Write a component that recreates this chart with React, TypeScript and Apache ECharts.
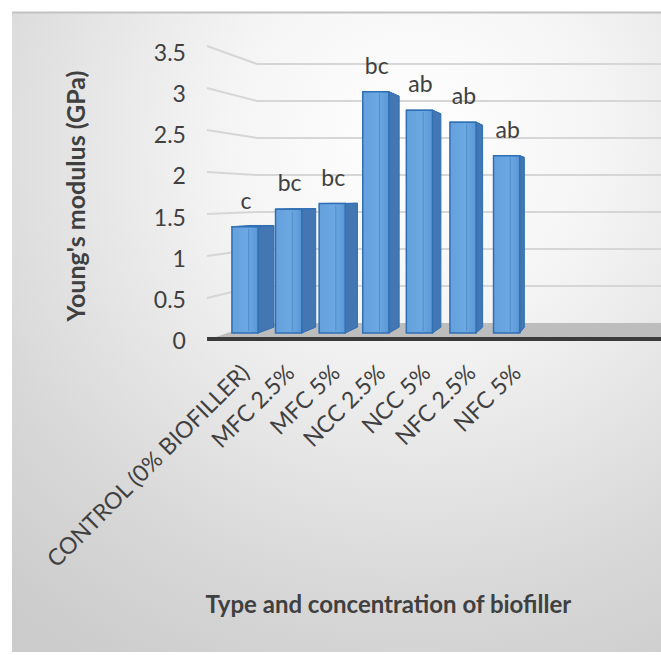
import React, { useEffect, useRef } from "react";
import * as echarts from "echarts";

// Young's modulus per biofiller treatment
const categories = [
  "CONTROL (0% BIOFILLER)",
  "MFC 2.5%",
  "MFC 5%",
  "NCC 2.5%",
  "NCC 5%",
  "NFC 2.5%",
  "NFC 5%",
];
const modulusGPa = [1.33, 1.55, 1.62, 3.02, 2.79, 2.64, 2.22];
const groupLetters = ["c", "bc", "bc", "bc", "ab", "ab", "ab"];
const yTicks = [0, 0.5, 1, 1.5, 2, 2.5, 3, 3.5];

const FONT = "Lato, 'Open Sans', sans-serif";
const TEXT = "#404040";

// Depths (fraction of the way toward the vanishing point)
const FLOOR_BACK = 0.119;
const BAR_FRONT = 0.049;
const BAR_BACK = 0.09;

// Perspective view built from the axis scales of the grid
function makeView(api: any) {
  const base = api.coord([0, 0]);
  const band = api.size([1, 0])[0];
  const unit = api.size([0, 1])[1];
  const frontBand = band * 1.013;
  const frontUnit = unit * 1.0207;
  const vp = [base[0] + 382.5, base[1] - 143];
  const catX = (i: number) => base[0] - 19.2 + i * frontBand;
  const valY = (v: number) => base[1] - v * frontUnit;
  const proj = (x: number, y: number, f: number) => [x + (vp[0] - x) * f, y + (vp[1] - y) * f];
  const wallX = base[0] - 37.5;
  return { base, frontBand, catX, valY, proj, wallX, width: api.getWidth() };
}

export default function App() {
  const ref = useRef<HTMLDivElement>(null);

  useEffect(() => {
    document.body.style.margin = "0";
    document.body.style.overflow = "hidden";
    document.documentElement.style.overflow = "hidden";
    const chart = echarts.init(ref.current!, undefined, { renderer: "svg" });

    const option: any = {
      animation: false,
      graphic: [
        {
          type: "rect",
          z: -10,
          silent: true,
          shape: { x: 12, y: 12, width: 649, height: 640 },
          style: {
            fill: new echarts.graphic.RadialGradient(0.62, 0.2, 0.95, [
              { offset: 0, color: "#ffffff" },
              { offset: 0.3, color: "#f5f5f5" },
              { offset: 0.75, color: "#d8d8d8" },
              { offset: 1, color: "#cccccc" },
            ]),
          },
        },
        {
          type: "line",
          z: -9,
          silent: true,
          shape: { x1: 12, y1: 12.5, x2: 661, y2: 12.5 },
          style: { stroke: "#c2c2c2", lineWidth: 2 },
        },
      ],
      grid: {
        left: 221.9,
        right: 122.3,
        top: 52,
        bottom: 315,
        containLabel: false,
        outerBoundsMode: "none",
      },
      xAxis: {
        type: "category",
        data: categories,
        axisLine: { show: false },
        axisTick: { show: false },
        splitLine: { show: false },
        axisLabel: {
          interval: 0,
          rotate: 45,
          margin: 28,
          fontSize: 23,
          fontFamily: FONT,
          color: TEXT,
        },
        name: "Type and concentration of biofiller",
        nameLocation: "middle",
        nameGap: 251,
        nameTextStyle: {
          fontSize: 24,
          fontWeight: "bold",
          fontFamily: FONT,
          color: TEXT,
          padding: [0, 0, 0, 16],
        },
      },
      yAxis: {
        type: "value",
        min: 0,
        max: 3.5,
        interval: 0.5,
        axisLine: { show: false },
        axisTick: { show: false },
        splitLine: { show: false },
        axisLabel: {
          margin: 36,
          fontSize: 23,
          fontFamily: FONT,
          color: TEXT,
        },
        name: "Young's modulus (GPa)",
        nameLocation: "middle",
        nameGap: 134,
        nameRotate: 90,
        nameTextStyle: {
          fontSize: 25,
          fontWeight: "bold",
          fontFamily: FONT,
          color: TEXT,
        },
      },
      series: [
        {
          // walls, gridlines and floor
          type: "custom",
          z: 1,
          silent: true,
          data: yTicks.map((v) => [0, v]),
          renderItem: (_p: any, api: any) => {
            const view = makeView(api);
            const v = api.value(1);
            const fy = view.valY(v);
            const back = view.proj(view.wallX, fy, FLOOR_BACK);
            if (v === 0) {
              return {
                type: "group",
                children: [
                  {
                    type: "polygon",
                    shape: {
                      points: [
                        [view.wallX, fy],
                        [view.width, fy],
                        [view.width, back[1]],
                        back,
                      ],
                    },
                    style: { fill: "#bdbdbd" },
                  },
                  {
                    type: "line",
                    shape: { x1: view.wallX, y1: fy - 1, x2: view.width, y2: fy - 1 },
                    style: { stroke: "#3b3b3b", lineWidth: 4 },
                  },
                ],
              };
            }
            return {
              type: "polyline",
              shape: {
                points: [[view.wallX, fy], back, [view.width, back[1]]],
              },
              style: { stroke: "#d6d6d6", lineWidth: 2, fill: null },
            };
          },
        },
        {
          // 3D columns with group letters
          type: "custom",
          z: 2,
          data: modulusGPa.map((v, i) => [i, v]),
          encode: { x: 0, y: 1 },
          renderItem: (p: any, api: any) => {
            const view = makeView(api);
            const i = api.value(0);
            const v = api.value(1);
            const cx = view.catX(i);
            const hw = view.frontBand * 0.3;
            const y0 = view.valY(0);
            const y1 = view.valY(v);
            const fl = view.proj(cx - hw, y1, BAR_FRONT);
            const fr = view.proj(cx + hw, y1, BAR_FRONT);
            const bl = view.proj(cx - hw, y0, BAR_FRONT);
            const br = view.proj(cx + hw, y0, BAR_FRONT);
            const tl2 = view.proj(cx - hw, y1, BAR_BACK);
            const tr2 = view.proj(cx + hw, y1, BAR_BACK);
            const br2 = view.proj(cx + hw, y0, BAR_BACK);
            const stripeX = fl[0] + (fr[0] - fl[0]) * 0.64;
            const outline = "#2f6fb4";
            return {
              type: "group",
              children: [
                {
                  type: "polygon",
                  shape: { points: [fl, fr, tr2, tl2] },
                  style: { fill: "#7db2e6", stroke: outline, lineWidth: 1 },
                },
                {
                  type: "polygon",
                  shape: { points: [fr, tr2, br2, br] },
                  style: { fill: "#4277b3", stroke: outline, lineWidth: 1 },
                },
                {
                  type: "polygon",
                  shape: { points: [fl, fr, br, bl] },
                  style: {
                    fill: new echarts.graphic.LinearGradient(0, 0, 1, 0, [
                      { offset: 0, color: "#64a1dd" },
                      { offset: 0.6, color: "#6ca8e2" },
                      { offset: 1, color: "#5b97d5" },
                    ]),
                    stroke: outline,
                    lineWidth: 1.5,
                  },
                },
                {
                  type: "line",
                  shape: { x1: stripeX, y1: fl[1] + 2, x2: stripeX, y2: bl[1] - 2 },
                  style: { stroke: "#4f8ccc", lineWidth: 1 },
                },
                {
                  type: "text",
                  x: (fl[0] + fr[0]) / 2 + 1,
                  y: fl[1] - 27,
                  style: {
                    text: groupLetters[p.dataIndex],
                    fill: TEXT,
                    fontSize: 23,
                    fontFamily: FONT,
                    align: "center",
                    verticalAlign: "middle",
                    textAlign: "center",
                    textVerticalAlign: "middle",
                  },
                },
              ],
            };
          },
        },
      ],
    };

    chart.setOption(option);
    return () => chart.dispose();
  }, []);

  return <div ref={ref} style={{ width: 661, height: 655 }} />;
}
